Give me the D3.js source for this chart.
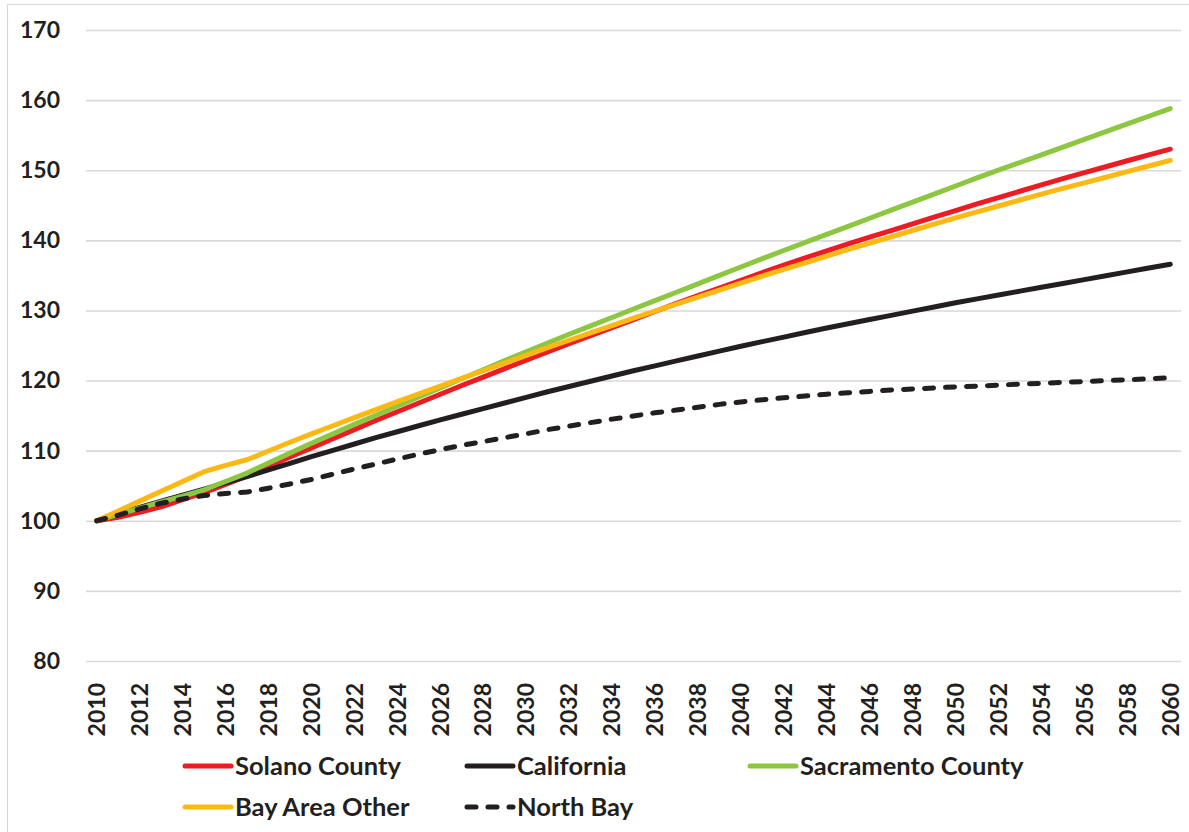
<!DOCTYPE html>
<html>
<head>
<meta charset="utf-8">
<script src="https://cdn.jsdelivr.net/npm/d3@7"></script>
<style>
  html, body { margin: 0; padding: 0; background: #fff; }
  svg { display: block; }
  text { font-family: Lato, "Open Sans", sans-serif; font-weight: 700; fill: #231F20; }
</style>
</head>
<body>
<svg id="chart" width="1189" height="832"></svg>
<script>
// Population index, 2010 = 100
const years = d3.range(2010, 2061);
const xTickYears = d3.range(2010, 2061, 2);
const yTicks = [80, 90, 100, 110, 120, 130, 140, 150, 160, 170];

const solano = [
  100.0, 100.5, 101.2, 102.0, 103.0, 104.0, 105.2, 106.4, 107.75, 109.1,
  110.4, 111.7, 113.0, 114.3, 115.55, 116.8, 118.05, 119.3, 120.5, 121.7,
  122.9, 124.1, 125.25, 126.4, 127.55, 128.7, 129.85, 131.0, 132.1, 133.2,
  134.3, 135.4, 136.45, 137.5, 138.5, 139.5, 140.45, 141.4, 142.35, 143.3,
  144.25, 145.2, 146.1, 147.0, 147.9, 148.8, 149.65, 150.5, 151.35, 152.2,
  153.0
];
const california = [
  100.0, 100.95, 101.9, 102.8, 103.65, 104.5, 105.4, 106.3, 107.25, 108.2,
  109.15, 110.05, 110.95, 111.85, 112.7, 113.55, 114.4, 115.2, 116.0, 116.8,
  117.6, 118.4, 119.15, 119.9, 120.65, 121.4, 122.1, 122.8, 123.5, 124.2,
  124.9, 125.55, 126.2, 126.85, 127.5, 128.1, 128.7, 129.3, 129.9, 130.5,
  131.1, 131.65, 132.2, 132.75, 133.3, 133.85, 134.4, 134.95, 135.5, 136.05,
  136.6
];
const sacramento = [
  100.0, 100.9, 101.8, 102.7, 103.5, 104.4, 105.6, 106.8, 108.25, 109.65,
  111.05, 112.4, 113.75, 115.05, 116.35, 117.65, 118.95, 120.25, 121.55, 122.85,
  124.1, 125.35, 126.6, 127.8, 129.0, 130.2, 131.4, 132.6, 133.8, 135.0,
  136.2, 137.4, 138.55, 139.7, 140.85, 142.0, 143.15, 144.3, 145.45, 146.6,
  147.75, 148.9, 150.0, 151.1, 152.2, 153.3, 154.4, 155.5, 156.6, 157.7,
  158.8
];
const bayAreaOther = [
  100.0, 101.4, 102.8, 104.2, 105.6, 107.0, 107.9, 108.7, 109.95, 111.2,
  112.4, 113.55, 114.7, 115.85, 117.0, 118.1, 119.2, 120.3, 121.4, 122.5,
  123.6, 124.7, 125.75, 126.8, 127.85, 128.9, 129.9, 130.9, 131.9, 132.9,
  133.9, 134.9, 135.85, 136.8, 137.75, 138.7, 139.6, 140.5, 141.4, 142.3,
  143.2, 144.05, 144.9, 145.75, 146.6, 147.4, 148.2, 149.0, 149.8, 150.6,
  151.4
];
const northBay = [
  100.0, 100.8, 101.7, 102.5, 103.1, 103.6, 103.9, 104.1, 104.65, 105.25,
  105.9, 106.65, 107.4, 108.1, 108.8, 109.5, 110.15, 110.75, 111.3, 111.85,
  112.4, 113.0, 113.5, 114.0, 114.5, 114.95, 115.4, 115.8, 116.2, 116.6,
  116.95, 117.25, 117.55, 117.8, 118.05, 118.25, 118.45, 118.65, 118.8, 118.95,
  119.1, 119.2, 119.35, 119.5, 119.6, 119.75, 119.85, 120.0, 120.1, 120.25,
  120.4
];

const seriesNames = ["Solano County", "California", "Sacramento County", "Bay Area Other", "North Bay"];
const seriesValues = [solano, california, sacramento, bayAreaOther, northBay];
const seriesColors = ["#ED1C24", "#231F20", "#8DC641", "#FDB913", "#231F20"];
const seriesDashed = [false, false, false, false, true];

const series = seriesNames.map((name, i) => ({
  name, values: seriesValues[i], color: seriesColors[i], dashed: seriesDashed[i]
}));

const svg = d3.select("#chart");

// outer chart frame
svg.append("rect")
  .attr("x", 7.5).attr("y", 4.5)
  .attr("width", 1300).attr("height", 1000)
  .attr("fill", "none").attr("stroke", "#D9D9D9").attr("stroke-width", 1.2);

const plot = { left: 86, right: 1181, top: 30, bottom: 661 };

const x = d3.scaleBand().domain(years).range([plot.left, plot.right]).padding(0);
const xc = yr => x(yr) + x.bandwidth() / 2;
const y = d3.scaleLinear().domain([80, 170]).range([plot.bottom, plot.top]);

// horizontal gridlines and value labels
const yAxis = d3.axisLeft(y).tickValues(yTicks).tickSize(-(plot.right - plot.left)).tickPadding(26);
const gy = svg.append("g").attr("transform", `translate(${plot.left},0)`).call(yAxis);
gy.select(".domain").remove();
gy.selectAll(".tick line").attr("stroke", "#D9D9D9").attr("stroke-width", 1.6);
gy.selectAll(".tick text")
  .attr("font-size", 23).attr("font-family", "Lato, 'Open Sans', sans-serif")
  .attr("font-weight", 700).attr("fill", "#231F20");

// year labels, rotated, every second year
const xAxis = d3.axisBottom(x).tickValues(xTickYears).tickSize(0).tickPadding(0);
const gx = svg.append("g").attr("transform", `translate(0,${plot.bottom})`).call(xAxis);
gx.select(".domain").remove();
gx.selectAll(".tick text")
  .attr("font-size", 23).attr("font-family", "Lato, 'Open Sans', sans-serif")
  .attr("font-weight", 700).attr("fill", "#231F20")
  .attr("text-anchor", "end")
  .attr("transform", "translate(0,22) rotate(-90)")
  .attr("x", 0).attr("y", 0).attr("dy", "0.36em");

// series lines
const line = d3.line()
  .x((d, i) => xc(years[i]))
  .y(d => y(d));

svg.append("g").selectAll("path")
  .data(series)
  .join("path")
  .attr("d", d => line(d.values))
  .attr("fill", "none")
  .attr("stroke", d => d.color)
  .attr("stroke-width", 5)
  .attr("stroke-linecap", "round")
  .attr("stroke-linejoin", "round")
  .attr("stroke-dasharray", d => d.dashed ? "9,12" : null);

// legend
const legendPos = [
  { x: 185, y: 766 }, { x: 467, y: 766 }, { x: 750, y: 766 },
  { x: 185, y: 807 }, { x: 467, y: 807 }
];
const lg = svg.append("g").selectAll("g")
  .data(series)
  .join("g")
  .attr("transform", (d, i) => `translate(${legendPos[i].x},${legendPos[i].y})`);
lg.append("line")
  .attr("x1", 0).attr("x2", 46).attr("y1", 0).attr("y2", 0)
  .attr("stroke", d => d.color)
  .attr("stroke-width", 5)
  .attr("stroke-linecap", "round")
  .attr("stroke-dasharray", d => d.dashed ? "9,12" : null);
lg.append("text")
  .attr("x", 50).attr("y", 0).attr("dy", "0.36em")
  .attr("font-size", 25.5)
  .text(d => d.name);
</script>
</body>
</html>
